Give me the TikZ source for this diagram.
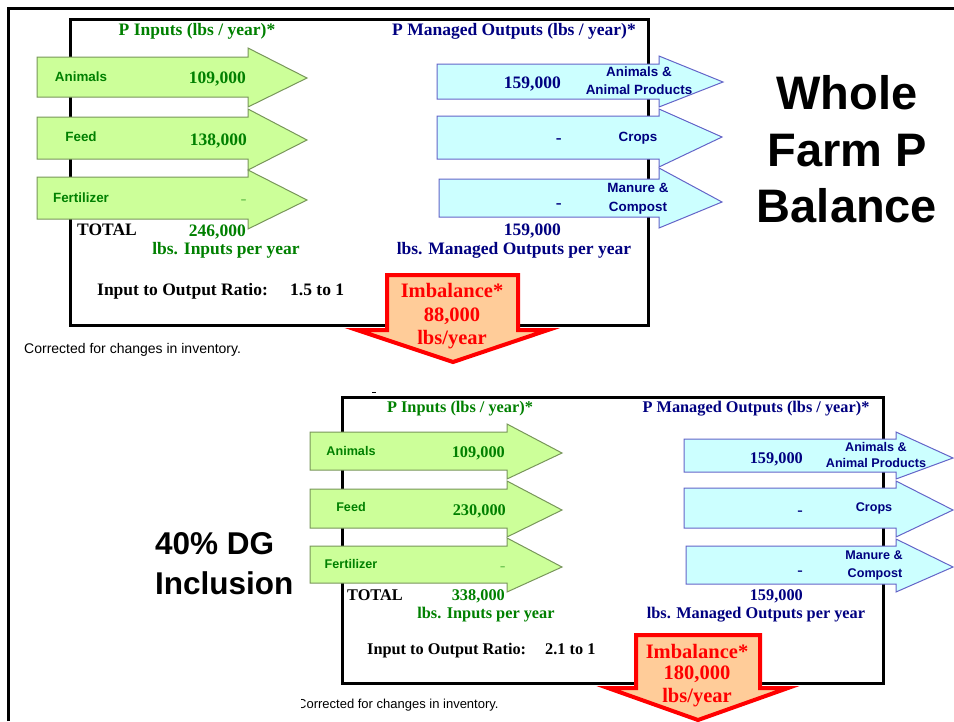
\documentclass[tikz,border=0pt]{standalone}
\usepackage{fontspec}
\setmainfont{Liberation Serif}
\setsansfont{Liberation Sans}
\definecolor{gfill}{RGB}{204,255,153}
\definecolor{gdraw}{RGB}{120,150,90}
\definecolor{bfill}{RGB}{204,255,255}
\definecolor{bdraw}{RGB}{100,100,200}
\definecolor{gtxt}{RGB}{0,128,0}
\definecolor{ntxt}{RGB}{0,0,128}
\definecolor{ofill}{RGB}{255,204,153}
\newcommand\harrow[9]{\draw[#1] (#2,#3) -- (#5,#3) -- (#5,#6) -- (#7,#8) -- (#5,#9) -- (#5,#4) -- (#2,#4) -- cycle;}
\begin{document}
\begin{tikzpicture}[x=1pt,y=-1pt,
  ser/.style={inner sep=0pt, font=\fontsize{17.5}{20}\selectfont\bfseries, text height=11.5pt, text depth=0pt},
  sers/.style={inner sep=0pt, font=\fontsize{16.3}{19}\selectfont\bfseries, text height=10.8pt, text depth=0pt},
  san/.style={inner sep=0pt, font=\sffamily\bfseries\fontsize{13.4}{15}\selectfont, text height=9.6pt, text depth=0pt},
  sans/.style={inner sep=0pt, font=\sffamily\bfseries\fontsize{12.6}{14}\selectfont, text height=9pt, text depth=0pt},
  ga/.style={fill=gfill, draw=gdraw, line width=1pt, line join=miter},
  ba/.style={fill=bfill, draw=bdraw, line width=1pt, line join=miter},
  frame/.style={draw=black, line width=3pt},
  imb/.style={fill=ofill, draw=red, line width=4pt, line join=miter},
  imbt/.style={inner sep=0pt, font=\fontsize{20.5}{22}\selectfont\bfseries, text=red, text height=13.6pt, text depth=0pt},
  big/.style={inner sep=0pt, font=\sffamily\bfseries\fontsize{47}{50}\selectfont, text height=33.6pt, text depth=0pt},
  mid/.style={inner sep=0pt, font=\sffamily\bfseries\fontsize{31.5}{34}\selectfont, text height=22.5pt, text depth=0pt},
  note/.style={inner sep=0pt, font=\sffamily\fontsize{14}{16}\selectfont, text height=10pt, text depth=0pt},
  notes/.style={inner sep=0pt, font=\sffamily\fontsize{13}{15}\selectfont, text height=9.3pt, text depth=0pt}
]
\useasboundingbox (0,0) rectangle (954,721);
% outer frame
\draw[line width=3pt] (8,721) -- (8,8) -- (954,8);
% ================= TOP PANEL =================
\draw[frame] (70,19) rectangle (648,325);
\harrow{ga}{37}{57}{97}{248}{48}{307}{78}{107}
\harrow{ga}{37}{117}{159}{248}{109}{307}{140}{170}
\harrow{ga}{37}{177}{219}{248}{170}{307}{200}{229}
\harrow{ba}{437}{64}{99}{659}{56}{723}{82}{107}
\harrow{ba}{437}{116}{159}{659}{109}{722}{137}{167}
\harrow{ba}{439}{179}{217}{659}{168}{722}{202}{228}

\node[ser, text=gtxt] (tin) at (197,30) {P Inputs (lbs / year)*};
\node[ser, text=ntxt] (tout) at (514,30) {P Managed Outputs (lbs / year)*};

\node[san, text=gtxt] (ta) at (81,77) {Animals};
\node[ser, text=gtxt, anchor=east] (tav) at (246,78) {109,000};
\node[san, text=gtxt] (tf) at (81,137) {Feed};
\node[ser, text=gtxt, anchor=east] (tfv) at (247,140) {138,000};
\node[san, text=gtxt] (tz) at (81,198) {Fertilizer};
\node[inner sep=0pt, font=\fontsize{9}{10}\selectfont\bfseries, text=gtxt, anchor=east] (tzv) at (246,200) {\_};
\node[ser, anchor=west] (ttot) at (77,230) {TOTAL};
\node[ser, text=gtxt, anchor=east] (ttotv) at (246,231) {246,000};
\node[ser, text=gtxt] (tlin) at (226,249) {lbs. Inputs per year};

\node[san, text=ntxt] (toa1) at (639,72) {Animals \&};
\node[san, text=ntxt] (toa2) at (639,90) {Animal Products};
\node[ser, text=ntxt, anchor=east] (toav) at (561,83) {159,000};
\node[san, text=ntxt] (toc) at (638,137) {Crops};
\node[ser, text=ntxt, anchor=east] (tocv) at (562,138) {-};
\node[san, text=ntxt] (tom1) at (638,188) {Manure \&};
\node[san, text=ntxt] (tom2) at (638,207) {Compost};
\node[ser, text=ntxt, anchor=east] (tomv) at (562,203) {-};
\node[ser, text=ntxt, anchor=east] (tout2) at (561,230) {159,000};
\node[ser, text=ntxt] (tlout) at (514,249) {lbs. Managed Outputs per year};

\node[ser, anchor=west] (tratio) at (97,290) {Input to Output Ratio:};
\node[ser, anchor=west] (tratiov) at (290,290) {1.5 to 1};

\node[note, anchor=west] (tnote) at (24,348) {Corrected for changes in inventory.};

\draw[imb] (387,275) -- (518,275) -- (518,330) -- (548,330) -- (453,362) -- (357,330) -- (387,330) -- cycle;
\node[imbt] (ti1) at (452,291) {Imbalance*};
\node[imbt] (ti2) at (452,315) {88,000};
\node[imbt] (ti3) at (452,338) {lbs/year};

\node[big] (w1) at (847,93) {Whole};
\node[big] (w2) at (847,150) {Farm P};
\node[big] (w3) at (847,206) {Balance};

% ================= BOTTOM PANEL =================
\draw[line width=0.8pt] (372,392) -- (376,392);
\draw[frame] (342,397) rectangle (883,683);
\harrow{ga}{310}{432}{470}{507}{424}{562}{453}{479}
\harrow{ga}{310}{489}{528}{507}{481}{562}{510}{537}
\harrow{ga}{310}{546}{583}{507}{538}{562}{567}{592}
\harrow{ba}{684}{439}{472}{896}{432}{953}{458}{479}
\harrow{ba}{684}{488}{528}{896}{481}{953}{510}{537}
\harrow{ba}{686}{546}{584}{896}{539}{953}{567}{592}

\node[sers, text=gtxt] (bin) at (460,407) {P Inputs (lbs / year)*};
\node[sers, text=ntxt] (bout) at (756,407) {P Managed Outputs (lbs / year)*};

\node[sans, text=gtxt] (ba) at (351,451) {Animals};
\node[sers, text=gtxt, anchor=east] (bav) at (505,452) {109,000};
\node[sans, text=gtxt] (bf) at (351,507) {Feed};
\node[sers, text=gtxt, anchor=east] (bfv) at (506,510) {230,000};
\node[sans, text=gtxt] (bz) at (351,564) {Fertilizer};
\node[inner sep=0pt, font=\fontsize{8.5}{10}\selectfont\bfseries, text=gtxt, anchor=east] (bzv) at (505,567) {\_};
\node[sers, anchor=west] (btot) at (347,595) {TOTAL};
\node[sers, text=gtxt, anchor=east] (btotv) at (505,595) {338,000};
\node[sers, text=gtxt] (blin) at (486,613) {lbs. Inputs per year};

\node[sans, text=ntxt] (boa1) at (876,447) {Animals \&};
\node[sans, text=ntxt] (boa2) at (876,463) {Animal Products};
\node[sers, text=ntxt, anchor=east] (boav) at (803,458) {159,000};
\node[sans, text=ntxt] (boc) at (874,507) {Crops};
\node[sers, text=ntxt, anchor=east] (bocv) at (803,510) {-};
\node[sans, text=ntxt] (bom1) at (874,555) {Manure \&};
\node[sans, text=ntxt] (bom2) at (875,573) {Compost};
\node[sers, text=ntxt, anchor=east] (bomv) at (803,570) {-};
\node[sers, text=ntxt, anchor=east] (bout2) at (803,595) {159,000};
\node[sers, text=ntxt] (blout) at (756,613) {lbs. Managed Outputs per year};

\node[sers, anchor=west] (bratio) at (367,649) {Input to Output Ratio:};
\node[sers, anchor=west] (bratiov) at (545,649) {2.1 to 1};

\begin{scope}
\clip (301,690) rectangle (560,721);
\node[notes, anchor=west] (bnote) at (297,704) {Corrected for changes in inventory.};
\end{scope}

\draw[imb] (636,635) -- (760,635) -- (760,688) -- (788,688) -- (698,720) -- (608,688) -- (636,688) -- cycle;
\node[imbt] (bi1) at (697,652) {Imbalance*};
\node[imbt] (bi2) at (697,673) {180,000};
\node[imbt] (bi3) at (697,696) {lbs/year};

\node[mid, anchor=west] (d1) at (155,543) {40\% DG};
\node[mid, anchor=west] (d2) at (155,583) {Inclusion};
\end{tikzpicture}
\end{document}
